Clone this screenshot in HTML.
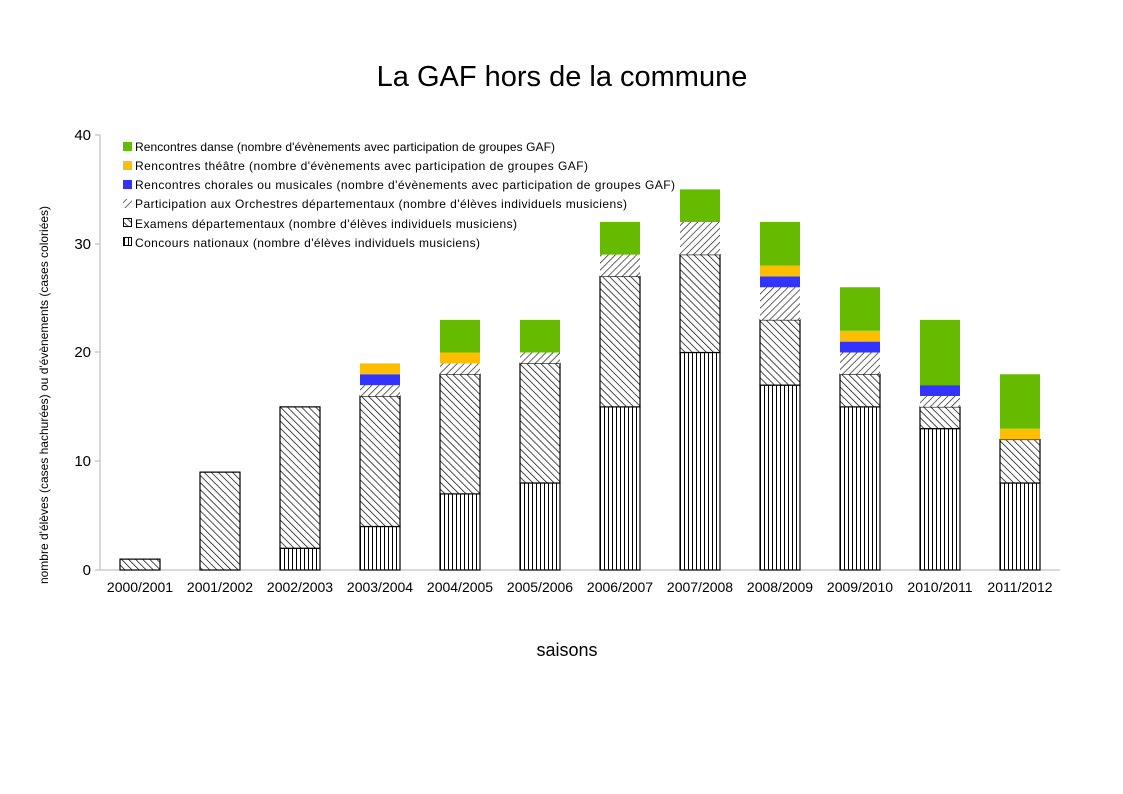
<!DOCTYPE html>
<html><head><meta charset="utf-8"><style>
body{margin:0;background:#fff;}
svg{display:block;font-family:"Liberation Sans",Arial,sans-serif;}
</style></head><body>
<svg id="c" width="1123" height="794" viewBox="0 0 1123 794" xmlns="http://www.w3.org/2000/svg">
<defs>
<pattern id="pv" patternUnits="userSpaceOnUse" width="4" height="4"><rect width="4" height="4" fill="#fff"/><line x1="0.5" y1="0" x2="0.5" y2="4" stroke="#000" stroke-width="1"/></pattern>
<pattern id="pe" patternUnits="userSpaceOnUse" width="5" height="5" patternTransform="rotate(-45)"><rect width="5" height="5" fill="#fff"/><line x1="0" y1="0" x2="0" y2="5" stroke="#000" stroke-width="1.4"/></pattern>
<pattern id="po" patternUnits="userSpaceOnUse" width="5" height="5" patternTransform="rotate(45)"><rect width="5" height="5" fill="#fff"/><line x1="0" y1="0" x2="0" y2="5" stroke="#222" stroke-width="1.4"/></pattern>
</defs>
<text x="562" y="86" font-size="29" text-anchor="middle">La GAF hors de la commune</text>
<g stroke="#b3b3b3" stroke-width="1">
<line x1="100" y1="135" x2="100" y2="570"/>
<line x1="100" y1="570" x2="1060" y2="570"/>
<line x1="95" y1="570" x2="100" y2="570"/><line x1="95" y1="461" x2="100" y2="461"/><line x1="95" y1="352" x2="100" y2="352"/><line x1="95" y1="244" x2="100" y2="244"/><line x1="95" y1="135" x2="100" y2="135"/>
</g>
<g font-size="15" text-anchor="end" fill="#000">
<text x="91" y="575">0</text><text x="91" y="466">10</text><text x="91" y="357">20</text><text x="91" y="249">30</text><text x="91" y="140">40</text>
</g>
<g id="bars"></g>
<g font-size="14" text-anchor="middle">
<text x="140" y="592">2000/2001</text><text x="220" y="592">2001/2002</text><text x="300" y="592">2002/2003</text><text x="380" y="592">2003/2004</text><text x="460" y="592">2004/2005</text><text x="540" y="592">2005/2006</text><text x="620" y="592">2006/2007</text><text x="700" y="592">2007/2008</text><text x="780" y="592">2008/2009</text><text x="860" y="592">2009/2010</text><text x="940" y="592">2010/2011</text><text x="1020" y="592">2011/2012</text>
</g>
<text x="567" y="656" font-size="18" text-anchor="middle">saisons</text>
<text transform="translate(48,395) rotate(-90)" font-size="12" text-anchor="middle">nombre d'élèves (cases hachurées) ou d'évènements (cases coloriées)</text>
<g font-size="12">
<rect x="123" y="142" width="9" height="9" fill="#66bb00"/><text x="135" y="151" textLength="420">Rencontres danse  (nombre d'évènements avec participation de groupes GAF)</text>
<rect x="123" y="161" width="9" height="9" fill="#ffbf00"/><text x="135" y="170" textLength="453">Rencontres théâtre  (nombre d'évènements avec participation de groupes GAF)</text>
<rect x="123" y="180" width="9" height="9" fill="#3333ff"/><text x="135" y="189" textLength="540">Rencontres chorales ou musicales (nombre d'évènements avec participation de groupes GAF)</text>
<rect x="123" y="199" width="9" height="9" fill="url(#po)"/><text x="135" y="208" textLength="492">Participation aux Orchestres départementaux (nombre d'élèves individuels musiciens)</text>
<rect x="123.5" y="218.5" width="8" height="8" fill="url(#pe)" stroke="#000"/><text x="135" y="228" textLength="382">Examens départementaux (nombre d'élèves individuels musiciens)</text>
<rect x="123.5" y="237.5" width="8" height="8" fill="url(#pv)" stroke="#000"/><text x="135" y="247" textLength="345">Concours nationaux (nombre d'élèves individuels musiciens)</text>
</g>
</svg>
<script>
var d=[[0,1,0,0,0,0],[0,9,0,0,0,0],[2,13,0,0,0,0],[4,12,1,1,1,0],[7,11,1,0,1,3],[8,11,1,0,0,3],[15,12,2,0,0,3],[20,9,3,0,0,3],[17,6,3,1,1,4],[15,3,2,1,1,4],[13,2,1,1,0,6],[8,4,0,0,1,5]];
var fills=["url(#pv)","url(#pe)","url(#po)","#3333ff","#ffbf00","#66bb00"];
var g=document.getElementById("bars"),s="";
function y(v){return 570-10.875*v;}
d.forEach(function(r,i){var x=120+80*i,c=0;r.forEach(function(v,k){if(!v)return;var y1=y(c+v),y0=y(c);c+=v;
var st=(k<2)?' stroke="#000" stroke-width="1.2"':'';
s+='<rect x="'+x+'" y="'+y1+'" width="40" height="'+(y0-y1)+'" fill="'+fills[k]+'"'+st+'/>';});});
g.innerHTML=s;
</script>
</body></html>
